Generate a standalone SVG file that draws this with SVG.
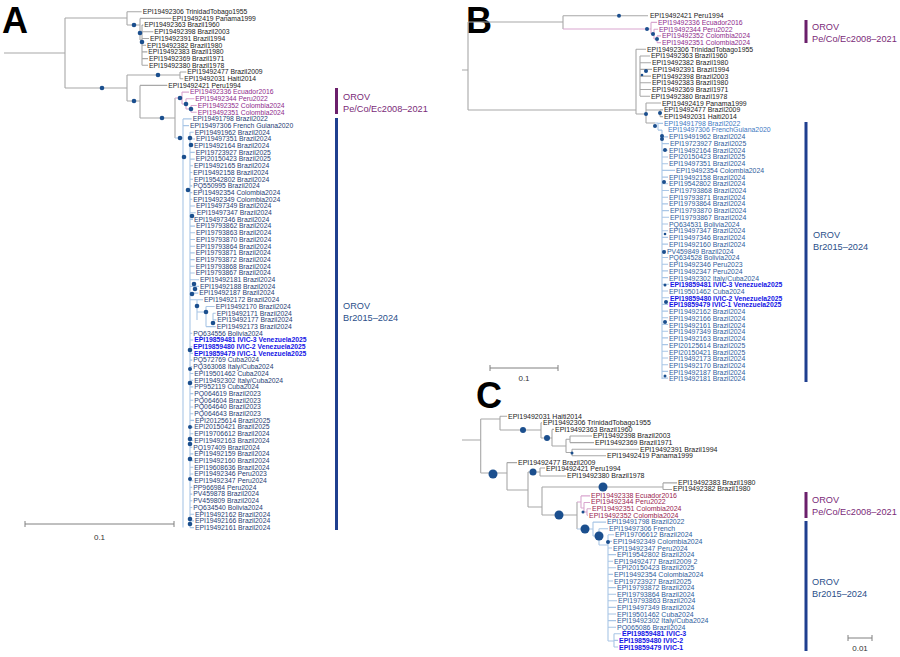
<svg xmlns="http://www.w3.org/2000/svg" width="900" height="657" viewBox="0 0 900 657">
<style>
text{font-family:"Liberation Sans",Arial,sans-serif}
.L{font-size:36px;font-weight:bold;fill:#000}
.a{font-size:6.8px}
.bb{font-size:6.9px}
.c{font-size:7px}
.k{fill:#1a1a1a}
.p{fill:#8e2b8c}
.pc{fill:#9a2450}
.n{fill:#1f3d74}
.nl{fill:#3d78c2}
.nb{fill:#2f5d9c}
.v{fill:#1414e6;font-weight:bold}
.g{fill:none;stroke:#a8a8a8;stroke-width:1.1}
.lb{fill:none;stroke:#a9c6e6;stroke-width:1.1}
.lp{fill:none;stroke:#d9a6cf;stroke-width:1.1}
.d{fill:#1b4f8e}
.bar{font-size:9.2px}
.sc{fill:none;stroke:#808080;stroke-width:1}
.st{font-size:8px;fill:#333}
</style>

<!-- Panel A -->
<g id="panelA">
<text class="L" x="2" y="33">A</text>
<g id="A-connectors">
<path class="g" d="M4,53H65M65,18V88M65,18H127M127,11.7V25M127,11.7H141.7M127,25H140M140,18.4V40M140,18.4H171.3M140,40H142M142,25.1V65.3M142,25.1H143.3M142,31.8H153.3M142,38.5H149M142,45.2H146M142,51.9H147.3M142,58.6H148M142,65.3H148M65,88H127M127,75V101M127,75H180M180,72V78.7M180,72H186.3M180,78.7H183.3M127,101H140M140,85.4V118M140,85.4H167.3M140,118H175M175,98V138"/>
<path class="lp" d="M175,98H182M182,92.1V104M182,92.1H189M182,104H186M186,98.8V109M186,98.8H194.3M186,109H191M191,105.5V112.2M191,105.5H196.7M191,112.2H196.7"/>
<path class="lb" d="M175,138H183M183,118.9V527.6M183,118.9H191.7M183,125.6H189M190,132V527.6M190,132.3H193.7M190,139H195M190,145.7H193M190,152.4H194.7M190,159.1H194.7M190,165.8H193M190,172.5H192.3M190,179.2H193M190,185.9H192.3M190,192.6H192.3M190,199.3H192.3M190,206H195M190,212.7H195.7M190,219.4H193M190,226.1H195M190,232.8H195M190,239.5H195M190,246.2H195M190,252.9H194.7M190,259.6H194.7M190,266.3H194.7M190,273H194.7M190,279.7H199M190,286.4H199M190,293.1H198.3M190,299.8H203M197,299.8V320M197,312H206M206,306.5V326.6M206,306.5H214.7M213,313.2V320M213,313.2H215.7M213,319.9H216.3M206,326.6H215.7M190,333.3H192.3M190,340H193.3M190,346.7H192.3M190,353.4H193M190,360.1H192.3M190,366.8H192.3M190,373.5H193.3M190,380.2H193.3M190,386.9H193.3M190,393.6H193.3M190,400.3H193.3M190,407H193.3M190,413.7H193.3M190,420.4H194M190,427.1H193.3M190,433.8H193.3M190,440.5H193.3M190,447.2H192.3M190,453.9H193.3M190,460.6H193.3M190,467.3H193.3M190,474H193.3M190,480.7H193.3M190,487.4H192.3M190,494.1H192.3M190,500.8H192.3M190,507.5H192.3M190,514.2H194M190,520.9H194M190,527.6H194"/>
</g>
<g id="A-nodes">
<circle class="d" cx="134" cy="25" r="2.3"/><circle class="d" cx="140" cy="33" r="2.3"/><circle class="d" cx="142" cy="42" r="2.3"/>
<circle class="d" cx="102" cy="88" r="2.3"/><circle class="d" cx="158" cy="75" r="2.3"/><circle class="d" cx="134" cy="101" r="2.3"/>
<circle class="d" cx="162" cy="118" r="2.3"/><circle class="d" cx="180" cy="98" r="2.3"/><circle class="d" cx="186" cy="104" r="2.3"/>
<circle class="d" cx="191" cy="109" r="2.3"/><circle class="d" cx="180" cy="138" r="2.3"/><circle class="d" cx="190" cy="138" r="2.3"/>
<circle class="d" cx="191" cy="145" r="2.3"/><circle class="d" cx="184" cy="157" r="2.3"/><circle class="d" cx="188" cy="190" r="2.3"/>
<circle class="d" cx="192" cy="216" r="2.3"/><circle class="d" cx="194" cy="284" r="2.3"/><circle class="d" cx="195" cy="289" r="2.3"/>
<circle class="d" cx="192" cy="294" r="2.3"/><circle class="d" cx="197" cy="306" r="2.3"/><circle class="d" cx="206" cy="312" r="2.3"/>
<circle class="d" cx="213" cy="323" r="2.3"/><circle class="d" cx="190" cy="350" r="2.3"/><circle class="d" cx="190" cy="369" r="2"/>
<circle class="d" cx="190" cy="383" r="2.3"/><circle class="d" cx="190" cy="427" r="2"/><circle class="d" cx="190" cy="439" r="2.3"/>
<circle class="d" cx="190" cy="444" r="2.3"/><circle class="d" cx="190" cy="459" r="2.3"/><circle class="d" cx="190" cy="479" r="2"/>
<circle class="d" cx="190" cy="519" r="2.3"/><circle class="d" cx="190" cy="524" r="2.3"/>
</g>
<g id="A-labels" class="a">
<text class="k" x="142.7" y="14">EPI19492306 TrinidadTobago1955</text>
<text class="k" x="172.3" y="20.7">EPI19492419 Panama1999</text>
<text class="k" x="144.3" y="27.4">EPI19492363 Brazil1960</text>
<text class="k" x="154.3" y="34.1">EPI19492398 Brazil2003</text>
<text class="k" x="150" y="40.8">EPI19492391 Brazil1994</text>
<text class="k" x="147" y="47.5">EPI19492382 Brazil1980</text>
<text class="k" x="148.3" y="54.2">EPI19492383 Brazil1980</text>
<text class="k" x="149" y="60.9">EPI19492369 Brazil1971</text>
<text class="k" x="149" y="67.6">EPI19492380 Brazil1978</text>
<text class="k" x="187.3" y="74.3">EPI19492477 Brazil2009</text>
<text class="k" x="184.3" y="81">EPI19492031 Haiti2014</text>
<text class="k" x="168.3" y="87.7">EPI19492421 Peru1994</text>
<text class="p" x="190" y="94.4">EPI19492336 Ecuador2016</text>
<text class="p" x="195.3" y="101.1">EPI19492344 Peru2022</text>
<text class="p" x="197.7" y="107.8">EPI19492352 Colombia2024</text>
<text class="p" x="197.7" y="114.5">EPI19492351 Colombia2024</text>
<text class="n" x="192.7" y="121.2">EPI19491798 Brazil2022</text>
<text class="n" x="190" y="127.9">EPI19497306 French Guiana2020</text>
<text class="n" x="194.7" y="134.6">EPI19491962 Brazil2024</text>
<text class="n" x="196" y="141.3">EPI19497351 Brazil2024</text>
<text class="n" x="194" y="148">EPI19492164 Brazil2024</text>
<text class="n" x="195.7" y="154.7">EPI19723927 Brazil2025</text>
<text class="n" x="195.7" y="161.4">EPI20150423 Brazil2025</text>
<text class="n" x="194" y="168.1">EPI19492165 Brazil2024</text>
<text class="n" x="193.3" y="174.8">EPI19492158 Brazil2024</text>
<text class="n" x="194" y="181.5">EPI19542802 Brazil2024</text>
<text class="n" x="193.3" y="188.2">PQ550995 Brazil2024</text>
<text class="n" x="193.3" y="194.9">EPI19492354 Colombia2024</text>
<text class="n" x="193.3" y="201.6">EPI19492349 Colombia2024</text>
<text class="n" x="196" y="208.3">EPI19497349 Brazil2024</text>
<text class="n" x="196.7" y="215">EPI19497347 Brazil2024</text>
<text class="n" x="194" y="221.7">EPI19497346 Brazil2024</text>
<text class="n" x="196" y="228.4">EPI19793862 Brazil2024</text>
<text class="n" x="196" y="235.1">EPI19793863 Brazil2024</text>
<text class="n" x="196" y="241.8">EPI19793870 Brazil2024</text>
<text class="n" x="196" y="248.5">EPI19793864 Brazil2024</text>
<text class="n" x="195.7" y="255.2">EPI19793871 Brazil2024</text>
<text class="n" x="195.7" y="261.9">EPI19793872 Brazil2024</text>
<text class="n" x="195.7" y="268.6">EPI19793868 Brazil2024</text>
<text class="n" x="195.7" y="275.3">EPI19793867 Brazil2024</text>
<text class="n" x="200" y="282">EPI19492181 Brazil2024</text>
<text class="n" x="200" y="288.7">EPI19492188 Brazil2024</text>
<text class="n" x="199.3" y="295.4">EPI19492187 Brazil2024</text>
<text class="n" x="204" y="302.1">EPI19492172 Brazil2024</text>
<text class="n" x="215.7" y="308.8">EPI19492170 Brazil2024</text>
<text class="n" x="216.7" y="315.5">EPI19492171 Brazil2024</text>
<text class="n" x="217.3" y="322.2">EPI19492177 Brazil2024</text>
<text class="n" x="216.7" y="328.9">EPI19492173 Brazil2024</text>
<text class="n" x="193.3" y="335.6">PQ634556 Bolivia2024</text>
<text class="v" x="194.3" y="342.3">EPI19859481 IVIC-3 Venezuela2025</text>
<text class="v" x="193.3" y="349">EPI19859480 IVIC-2 Venezuela2025</text>
<text class="v" x="194" y="355.7">EPI19859479 IVIC-1 Venezuela2025</text>
<text class="n" x="193.3" y="362.4">PQ572769 Cuba2024</text>
<text class="n" x="193.3" y="369.1">PQ363068 Italy/Cuba2024</text>
<text class="n" x="194.3" y="375.8">EPI19501462 Cuba2024</text>
<text class="n" x="194.3" y="382.5">EPI19492302 Italy/Cuba2024</text>
<text class="n" x="194.3" y="389.2">PP952119 Cuba2024</text>
<text class="n" x="194.3" y="395.9">PQ064619 Brazil2023</text>
<text class="n" x="194.3" y="402.6">PQ064604 Brazil2023</text>
<text class="n" x="194.3" y="409.3">PQ064640 Brazil2023</text>
<text class="n" x="194.3" y="416">PQ064643 Brazil2023</text>
<text class="n" x="195" y="422.7">EPI20125614 Brazil2025</text>
<text class="n" x="194.3" y="429.4">EPI20150421 Brazil2025</text>
<text class="n" x="194.3" y="436.1">EPI19706612 Brazil2024</text>
<text class="n" x="194.3" y="442.8">EPI19492163 Brazil2024</text>
<text class="n" x="193.3" y="449.5">PQ197409 Brazil2024</text>
<text class="n" x="194.3" y="456.2">EPI19492159 Brazil2024</text>
<text class="n" x="194.3" y="462.9">EPI19492160 Brazil2024</text>
<text class="n" x="194.3" y="469.6">EPI19608636 Brazil2024</text>
<text class="n" x="194.3" y="476.3">EPI19492346 Peru2023</text>
<text class="n" x="194.3" y="483">EPI19492347 Peru2024</text>
<text class="n" x="193.3" y="489.7">PP966984 Peru2024</text>
<text class="n" x="193.3" y="496.4">PV459878 Brazil2024</text>
<text class="n" x="193.3" y="503.1">PV459809 Brazil2024</text>
<text class="n" x="193.3" y="509.8">PQ634540 Bolivia2024</text>
<text class="n" x="195" y="516.5">EPI19492162 Brazil2024</text>
<text class="n" x="195" y="523.2">EPI19492166 Brazil2024</text>
<text class="n" x="195" y="529.9">EPI19492161 Brazil2024</text>
</g>
<g id="A-clades">
<rect x="335" y="88" width="3" height="26" fill="#6b1f6b"/>
<text class="bar" x="343" y="100" fill="#7a2a78">OROV</text>
<text class="bar" x="343" y="111.5" fill="#7a2a78">Pe/Co/Ec2008–2021</text>
<rect x="335" y="118" width="3" height="412" fill="#1f3f8f"/>
<text class="bar" x="343" y="309" fill="#2b4f8a">OROV</text>
<text class="bar" x="343" y="320.5" fill="#2b4f8a">Br2015–2024</text>
</g>
<g id="A-scale">
<path class="sc" d="M25,524H174M25,521V527M174,521V527"/>
<text class="st" x="99.5" y="540" text-anchor="middle">0.1</text>
</g>
</g>

<!-- Panel B -->
<g id="panelB">
<text class="L" x="466" y="33">B</text>
<g id="B-connectors">
<path class="g" d="M462,70H468M468,22V110M468,22H563M563,15.7V29M563,15.7H648M468,110H636M636,49.3V114M636,49.3H646M640,56V96M640,56H650M640,62.7H651M640,69.4H652M640,76.1H651M640,82.8H651M640,89.5H651M640,96.2H650M636,114H646M646,103V123M646,103H661M646,110H660M660,109.9V116.6M660,109.9H663M660,116.6H663M646,123H655"/>
<path class="lp" d="M563,29H651M651,22.4V34M651,22.4H657M651,34H654M654,29.2V39M654,29.2H658M654,39H657M657,35.9V42.6M657,35.9H661M657,42.6H661"/>
<path class="lb" d="M655,123H658M658,123.4V130.1M658,123.4H663M658,130.1H662M662,130V379.1M662,136.9H668M662,143.6H669M662,150.3H668M662,157H668M662,163.7H668M662,170.4H675M662,177.1H668M662,183.8H668M662,190.5H669M662,197.2H668M662,203.9H668M662,210.6H669M662,217.3H669M662,224H668M662,230.7H668M662,237.4H668M662,244.1H668M662,250.8H666M662,257.5H668M662,264.2H668M662,270.9H668M662,277.6H668M662,284.3H669M662,291H668M662,297.7H669M662,304.4H668M662,311.1H668M662,317.8H668M662,324.5H668M662,331.2H668M662,337.9H668M662,344.6H668M662,351.3H668M662,358H668M662,364.7H668M662,371.4H668M662,378.1H668"/>
</g>
<g id="B-nodes">
<circle class="d" cx="619" cy="15.7" r="2"/><circle class="d" cx="647" cy="29" r="2"/><circle class="d" cx="653" cy="34" r="2"/>
<circle class="d" cx="657" cy="39" r="2"/><circle class="d" cx="646" cy="71" r="2"/><circle class="d" cx="642" cy="75" r="1.3"/>
<circle class="d" cx="660" cy="113" r="2"/><circle class="d" cx="646" cy="114" r="2"/><circle class="d" cx="655" cy="126" r="2"/>
<circle class="d" cx="662" cy="136" r="2"/><circle class="d" cx="662" cy="139" r="2"/><circle class="d" cx="665" cy="150" r="2"/>
<circle class="d" cx="664" cy="182" r="2"/><circle class="d" cx="665" cy="234" r="1.3"/><circle class="d" cx="664" cy="252" r="2"/>
<circle class="d" cx="665" cy="285" r="1.5"/><circle class="d" cx="666" cy="302" r="2"/><circle class="d" cx="665" cy="322" r="2"/>
<circle class="d" cx="665" cy="376" r="1.5"/>
</g>
<g id="B-labels" class="bb">
<text class="k" x="650" y="18">EPI19492421 Peru1994</text>
<text class="p" x="658" y="24.7">EPI19492336 Ecuador2016</text>
<text class="p" x="659" y="31.5">EPI19492344 Peru2022</text>
<text class="p" x="662" y="38.2">EPI19492352 Colombia2024</text>
<text class="p" x="662" y="44.9">EPI19492351 Colombia2024</text>
<text class="k" x="647" y="51.7">EPI19492306 TrinidadTobago1955</text>
<text class="k" x="651" y="58.4">EPI19492363 Brazil1960</text>
<text class="k" x="652" y="65.1">EPI19492382 Brazil1980</text>
<text class="k" x="653" y="71.8">EPI19492391 Brazil1994</text>
<text class="k" x="652" y="78.6">EPI19492398 Brazil2003</text>
<text class="k" x="652" y="85.3">EPI19492383 Brazil1980</text>
<text class="k" x="652" y="92">EPI19492369 Brazil1971</text>
<text class="k" x="651" y="98.8">EPI19492380 Brazil1978</text>
<text class="k" x="662" y="105.5">EPI19492419 Panama1999</text>
<text class="k" x="664" y="112.2">EPI19492477 Brazil2009</text>
<text class="k" x="664" y="119">EPI19492031 Haiti2014</text>
<text class="nl" x="664" y="125.7">EPI19491798 Brazil2022</text>
<text class="nl" x="668" y="132.4">EPI19497306 FrenchGuiana2020</text>
<text class="nb" x="669" y="139.1">EPI19491962 Brazil2024</text>
<text class="nb" x="670" y="145.9">EPI19723927 Brazil2025</text>
<text class="nb" x="669" y="152.6">EPI19492164 Brazil2024</text>
<text class="nb" x="669" y="159.3">EPI20150423 Brazil2025</text>
<text class="nb" x="669" y="166.1">EPI19497351 Brazil2024</text>
<text class="nb" x="676" y="172.8">EPI19492354 Colombia2024</text>
<text class="nb" x="669" y="179.5">EPI19492158 Brazil2024</text>
<text class="nb" x="669" y="186.3">EPI19542802 Brazil2024</text>
<text class="nb" x="670" y="193">EPI19793868 Brazil2024</text>
<text class="nb" x="669" y="199.7">EPI19793871 Brazil2024</text>
<text class="nb" x="669" y="206.4">EPI19793864 Brazil2024</text>
<text class="nb" x="670" y="213.2">EPI19793870 Brazil2024</text>
<text class="nb" x="670" y="219.9">EPI19793867 Brazil2024</text>
<text class="nb" x="669" y="226.6">PQ634531 Bolivia2024</text>
<text class="nb" x="669" y="233.4">EPI19497347 Brazil2024</text>
<text class="nb" x="669" y="240.1">EPI19497346 Brazil2024</text>
<text class="nb" x="669" y="246.8">EPI19492160 Brazil2024</text>
<text class="nb" x="667" y="253.6">PV459849 Brazil2024</text>
<text class="nb" x="669" y="260.3">PQ634528 Bolivia2024</text>
<text class="nb" x="669" y="267">EPI19492346 Peru2023</text>
<text class="nb" x="669" y="273.7">EPI19492347 Peru2024</text>
<text class="nb" x="669" y="280.5">EPI19492302 Italy/Cuba2024</text>
<text class="v" x="670" y="287.2" font-size="6.8">EPI19859481 IVIC-3 Venezuela2025</text>
<text class="nb" x="669" y="293.9">EPI19501462 Cuba2024</text>
<text class="v" x="670" y="300.7" font-size="6.8">EPI19859480 IVIC-2 Venezuela2025</text>
<text class="v" x="669" y="307.4" font-size="6.8">EPI19859479 IVIC-1 Venezuela2025</text>
<text class="nb" x="669" y="314.1">EPI19492162 Brazil2024</text>
<text class="nb" x="669" y="320.9">EPI19492166 Brazil2024</text>
<text class="nb" x="669" y="327.6">EPI19492161 Brazil2024</text>
<text class="nb" x="669" y="334.3">EPI19497349 Brazil2024</text>
<text class="nb" x="669" y="341">EPI19492163 Brazil2024</text>
<text class="nb" x="669" y="347.8">EPI20125614 Brazil2025</text>
<text class="nb" x="669" y="354.5">EPI20150421 Brazil2025</text>
<text class="nb" x="669" y="361.2">EPI19492173 Brazil2024</text>
<text class="nb" x="669" y="368">EPI19492170 Brazil2024</text>
<text class="nb" x="669" y="374.7">EPI19492187 Brazil2024</text>
<text class="nb" x="669" y="381.4">EPI19492181 Brazil2024</text>
</g>
<g id="B-clades">
<rect x="804.5" y="20" width="3" height="23" fill="#6b1f6b"/>
<text class="bar" x="812" y="30" fill="#7a2a78">OROV</text>
<text class="bar" x="812" y="41.5" fill="#7a2a78">Pe/Co/Ec2008–2021</text>
<rect x="804.5" y="122" width="3" height="260" fill="#1f3f8f"/>
<text class="bar" x="813" y="238" fill="#2b4f8a">OROV</text>
<text class="bar" x="813" y="249.5" fill="#2b4f8a">Br2015–2024</text>
</g>
<g id="B-scale">
<path class="sc" d="M490,368H558M490,365V371M558,365V371"/>
<text class="st" x="524" y="381" text-anchor="middle">0.1</text>
</g>
</g>

<!-- Panel C -->
<g id="panelC">
<text class="L" x="476" y="408">C</text>
<g id="C-connectors">
<path class="g" d="M462,440H480.7M480.7,419V473M480.7,419H500M500,416.2V430M500,416.2H507M500,430H541M541,422.8V438M541,422.8H542M541,438H552M552,429.4V446M552,429.4H554M552,446H566M566,439.3V452.5M566,439.3H570M570,436V442.6M570,436H592M570,442.6H594M566,452.5H572M572,449.2V455.8M572,449.2H639M572,455.8H606M480.7,473H507M507,462.6V490M507,462.6H517M507,490H528M528,472V507M528,472H540M540,468V476M540,468H545M540,476H566M528,507H542M542,487V515M542,487H663M663,482.9V489.5M663,482.9H677M663,489.5H672M542,515H577M577,502V529"/>
<path class="lp" d="M577,502H581M581,495.9V508M581,495.9H590M581,508H584M584,502.5V512M584,502.5H590M584,512H587M587,508.7V515.3M587,508.7H591M587,515.3H588"/>
<path class="lb" d="M577,529H593M593,522.1V536M593,522.1H606M593,536H599M599,528.7V545M599,528.7H608M599,545H608M608,535V641M608,534.8H614M608,541.4H612M608,548H612M608,554.6H616M608,561.2H613M608,567.8H616M608,574.4H613M608,581H613M608,587.6H616M608,594.2H616M608,600.8H617M608,607.4H616M608,614H616M608,620.6H616M608,627.2H616M608,641H614M614,633.8V647M614,633.8H621M614,640.4H618M614,647H618"/>
</g>
<g id="C-nodes">
<circle class="d" cx="493" cy="474" r="4.5"/><circle class="d" cx="523" cy="430" r="3"/><circle class="d" cx="547" cy="438" r="3"/>
<circle class="d" cx="572" cy="453" r="1.5"/><circle class="d" cx="533" cy="472" r="3.5"/><circle class="d" cx="603" cy="487" r="4.5"/>
<circle class="d" cx="559" cy="515" r="4.5"/><circle class="d" cx="583" cy="512" r="1.5"/><circle class="d" cx="585" cy="529" r="4.5"/>
<circle class="d" cx="599" cy="536" r="4.5"/><circle class="d" cx="608" cy="542" r="2"/>
</g>
<g id="C-labels" class="c">
<text class="k" x="508" y="418.6">EPI19492031 Haiti2014</text>
<text class="k" x="543" y="425.2">EPI19492306 TrinidadTobago1955</text>
<text class="k" x="555" y="431.8">EPI19492363 Brazil1960</text>
<text class="k" x="593" y="438.4">EPI19492398 Brazil2003</text>
<text class="k" x="595" y="445">EPI19492369 Brazil1971</text>
<text class="k" x="640" y="451.6">EPI19492391 Brazil1994</text>
<text class="k" x="607" y="458.2">EPI19492419 Panama1999</text>
<text class="k" x="518" y="464.8">EPI19492477 Brazil2009</text>
<text class="k" x="546" y="471.4">EPI19492421 Peru1994</text>
<text class="k" x="567" y="478">EPI19492380 Brazil1978</text>
<text class="k" x="678" y="484.6">EPI19492383 Brazil1980</text>
<text class="k" x="673" y="491.2">EPI19492382 Brazil1980</text>
<text class="pc" x="591" y="497.7">EPI19492338 Ecuador2016</text>
<text class="pc" x="591" y="504.3">EPI19492344 Peru2022</text>
<text class="pc" x="592" y="510.9">EPI19492351 Colombia2024</text>
<text class="pc" x="589" y="517.5">EPI19492352 Colombia2024</text>
<text class="nb" x="607" y="524.1">EPI19491798 Brazil2022</text>
<text class="nb" x="609" y="530.7">EPI19497306 French</text>
<text class="nb" x="615" y="537.3">EPI19706612 Brazil2024</text>
<text class="nb" x="613" y="543.9">EPI19492349 Colombia2024</text>
<text class="nb" x="613" y="550.5">EPI19492347 Peru2024</text>
<text class="nb" x="617" y="557.1">EPI19542802 Brazil2024</text>
<text class="nb" x="614" y="563.7">EPI19492477 Brazil2009 2</text>
<text class="nb" x="617" y="570.3">EPI20150423 Brazil2025</text>
<text class="nb" x="614" y="576.9">EPI19492354 Colombia2024</text>
<text class="nb" x="614" y="583.5">EPI19723927 Brazil2025</text>
<text class="nb" x="617" y="590.1">EPI19793872 Brazil2024</text>
<text class="nb" x="617" y="596.7">EPI19793864 Brazil2024</text>
<text class="nb" x="618" y="603.3">EPI19793863 Brazil2024</text>
<text class="nb" x="617" y="609.9">EPI19497349 Brazil2024</text>
<text class="nb" x="617" y="616.5">EPI19501462 Cuba2024</text>
<text class="nb" x="617" y="623.1">EPI19492302 Italy/Cuba2024</text>
<text class="nb" x="617" y="629.7">PQ065086 Brazil2024</text>
<text class="v" x="622" y="636.3">EPI19859481 IVIC-3</text>
<text class="v" x="619" y="642.9">EPI19859480 IVIC-2</text>
<text class="v" x="619" y="649.5">EPI19859479 IVIC-1</text>
</g>
<g id="C-clades">
<rect x="804.5" y="492" width="3" height="26" fill="#6b1f6b"/>
<text class="bar" x="812" y="503" fill="#7a2a78">OROV</text>
<text class="bar" x="812" y="514.5" fill="#7a2a78">Pe/Co/Ec2008–2021</text>
<rect x="804.5" y="521" width="3" height="130" fill="#1f3f8f"/>
<text class="bar" x="812" y="585" fill="#2b4f8a">OROV</text>
<text class="bar" x="812" y="596.5" fill="#2b4f8a">Br2015–2024</text>
</g>
<g id="C-scale">
<path class="sc" d="M848,638H872M848,635V641M872,635V641"/>
<text class="st" x="860" y="651" text-anchor="middle">0.01</text>
</g>
</g>
</svg>
